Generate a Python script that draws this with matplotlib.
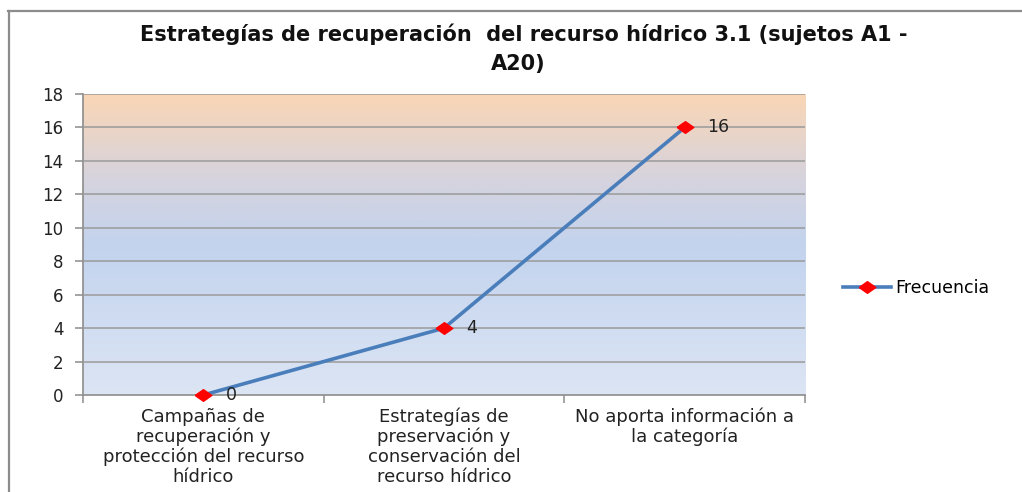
import matplotlib.pyplot as plt
import numpy as np
from matplotlib.colors import LinearSegmentedColormap
from matplotlib.lines import Line2D

plt.rcParams["font.family"] = ["DejaVu Sans"]

TITLE = "Estrategías de recuperación  del recurso hídrico 3.1 (sujetos A1 -\nA20)"
CATEGORIES = [
    "Campañas de\nrecuperación y\nprotección del recurso\nhídrico",
    "Estrategías de\npreservación y\nconservación del\nrecurso hídrico",
    "No aporta información a\nla categoría",
]
FRECUENCIA = [0, 4, 16]
SERIES_NAME = "Frecuencia"
Y_TICKS = list(range(0, 19, 2))

W, H = 1022, 492
fig = plt.figure(figsize=(W / 100, H / 100), dpi=100)
fig.patch.set_facecolor("white")

# chart-area border (top + left visible only)
fig.add_artist(Line2D([8 / W, 1], [1 - 10.5 / H] * 2, transform=fig.transFigure,
                      color="#8c8c8c", lw=1.6))
fig.add_artist(Line2D([8.5 / W] * 2, [0, 1 - 10.5 / H], transform=fig.transFigure,
                      color="#8c8c8c", lw=1.6))

ax = fig.add_axes([83 / W, 1 - 395 / H, (805 - 83) / W, (395 - 94) / H])
x = np.arange(len(CATEGORIES))
ax.set_xlim(-0.5, len(CATEGORIES) - 0.5)
ax.set_ylim(0, 18)

# gradient plot-area fill (blue at bottom -> peach at top)
cmap = LinearSegmentedColormap.from_list(
    "daybreak", [(0.0, "#dce5f4"), (0.5, "#c3d3ee"), (0.72, "#d6d3de"), (1.0, "#fad6b5")])
grad = np.linspace(0, 1, 256).reshape(-1, 1)
ax.imshow(grad, cmap=cmap, aspect="auto", origin="lower",
          extent=[-0.5, len(CATEGORIES) - 0.5, 0, 18], zorder=0)

ax.set_yticks(Y_TICKS)
ax.yaxis.grid(True, color="#9a9a9a", lw=1.1, zorder=1)
ax.set_axisbelow(False)
for s in ["top", "right"]:
    ax.spines[s].set_visible(False)
for s in ["left", "bottom"]:
    ax.spines[s].set_color("#8c8c8c")
    ax.spines[s].set_linewidth(1.2)

ax.set_xticks(x)
ax.set_xticklabels(CATEGORIES, fontsize=13, color="#222222", linespacing=1.12)
ax.set_xticks(np.arange(-0.5, len(CATEGORIES)), minor=True)
ax.tick_params(axis="x", which="major", length=0, pad=9)
ax.tick_params(axis="x", which="minor", length=6, color="#8c8c8c", width=1.1)
ax.tick_params(axis="y", length=6, color="#8c8c8c", width=1.1, pad=8,
               labelsize=12, labelcolor="#222222")

diamond = [(-1, 0), (0, 0.7), (1, 0), (0, -0.7), (-1, 0)]
ax.plot(x, FRECUENCIA, color="#4a7ebb", lw=2.6, marker=diamond, markersize=12,
        markerfacecolor="#ff0000", markeredgecolor="#ff0000", zorder=3,
        label=SERIES_NAME, clip_on=False)

for xi, v in zip(x, FRECUENCIA):
    ax.annotate(str(v), (xi, v), xytext=(16, 0), textcoords="offset points",
                ha="left", va="center", fontsize=12.5, color="#222222", zorder=4)

fig.text(524 / W, 1 - 34 / H, TITLE.split("\n")[0], ha="center", va="center",
         fontsize=15, fontweight="bold", color="#111111")
fig.text(518 / W, 1 - 64 / H, TITLE.split("\n")[1], ha="center", va="center",
         fontsize=15, fontweight="bold", color="#111111")

fig.legend(loc="center left", bbox_to_anchor=(834 / W, 1 - 288 / H), frameon=False,
           fontsize=12.5, handlelength=2.8, handletextpad=0.25, borderpad=0)

fig.savefig("out.png", dpi=100, facecolor="white")
